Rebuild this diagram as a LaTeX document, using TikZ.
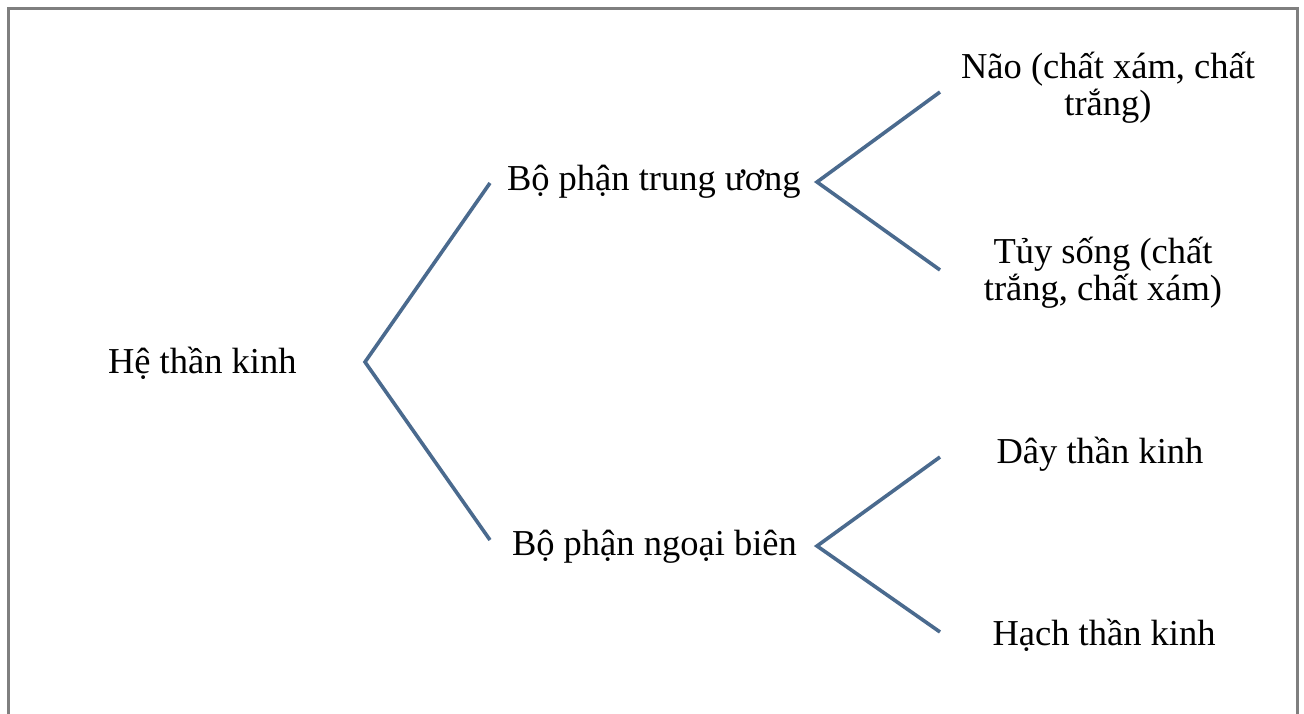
\documentclass[tikz,border=0pt]{standalone}
\usepackage{fontspec}
\setmainfont{Liberation Serif}
\definecolor{linkblue}{HTML}{4A6A8E}
\definecolor{framegray}{HTML}{7F7F7F}
\begin{document}
\begin{tikzpicture}[x=1pt,y=-1pt,
  lbl/.style={inner sep=0pt,outer sep=0pt,font=\fontsize{36.5}{37}\selectfont,text=black},
  lbl2/.style={lbl,align=center},
  link/.style={draw=linkblue,line width=3.6pt,line join=miter},
  frame/.style={draw=framegray,line width=2.6pt}]
\useasboundingbox (0,0) rectangle (1304,713);
\clip (0,0) rectangle (1304,713);
\fill[white] (0,0) rectangle (1304,713);
\draw[frame] (8.5,8.5) rectangle (1297.5,740);

\node[lbl,anchor=base west] (root) at (108,373) {Hệ thần kinh};
\node[lbl,anchor=base west] (central) at (507,190) {Bộ phận trung ương};
\node[lbl,anchor=base west] (periph) at (512,555) {Bộ phận ngoại biên};
\node[lbl2,anchor=center] (brain) at (1108,88) {Não (chất xám, chất\\trắng)};
\node[lbl2,anchor=center] (cord) at (1103,273) {Tủy sống (chất\\trắng, chất xám)};
\node[lbl,anchor=base] (nerve) at (1100,463) {Dây thần kinh};
\node[lbl,anchor=base] (gang) at (1104,645) {Hạch thần kinh};

\coordinate (v0) at (365,362);
\coordinate (v0a) at (490,183);
\coordinate (v0b) at (490,540);
\coordinate (v1) at (817,182);
\coordinate (v1a) at (940,92);
\coordinate (v1b) at (940,270);
\coordinate (v2) at (817,546);
\coordinate (v2a) at (940,457);
\coordinate (v2b) at (940,632);

\draw[link] (v0a) -- (v0) -- (v0b);
\draw[link] (v1a) -- (v1) -- (v1b);
\draw[link] (v2a) -- (v2) -- (v2b);
\end{tikzpicture}
\end{document}
